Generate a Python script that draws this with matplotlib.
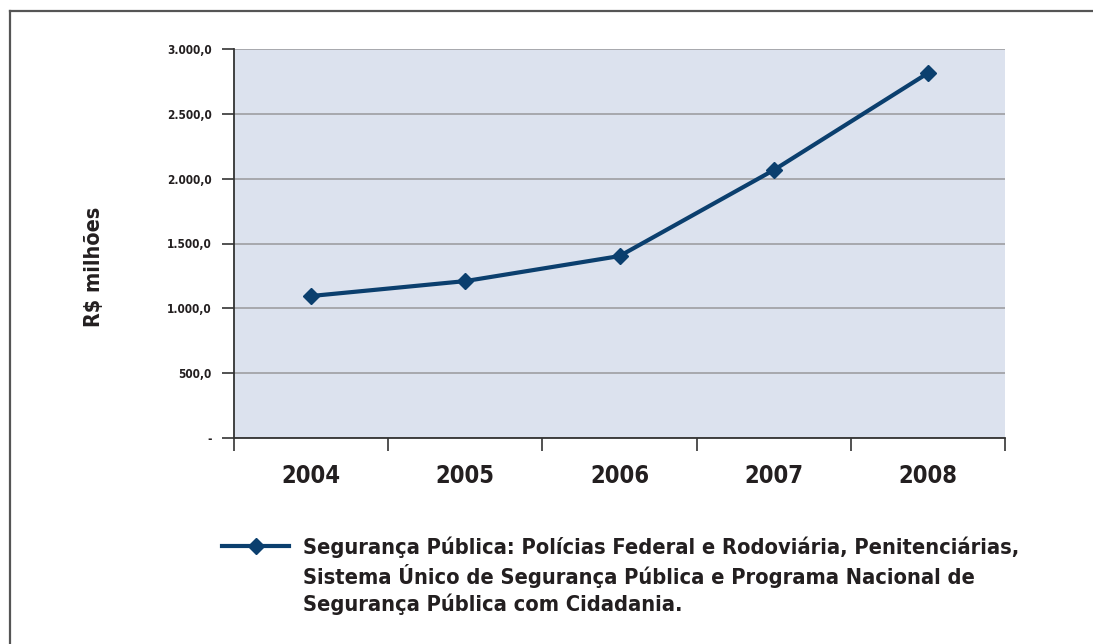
import numpy as np
import matplotlib.pyplot as plt
from matplotlib.lines import Line2D

# Data (R$ milhões)
years = ['2004', '2005', '2006', '2007', '2008']
values = [1095.0, 1210.0, 1403.0, 2066.0, 2814.0]
y_ticks = [0, 500, 1000, 1500, 2000, 2500, 3000]
y_labels = ['-', '500,0', '1.000,0', '1.500,0', '2.000,0', '2.500,0', '3.000,0']
legend_text = ('Segurança Pública: Polícias Federal e Rodoviária, Penitenciárias,\n'
               'Sistema Único de Segurança Pública e Programa Nacional de\n'
               'Segurança Pública com Cidadania.')

plt.rcParams['font.family'] = ['DejaVu Sans']
plt.rcParams['font.weight'] = 'bold'
plt.rcParams['font.stretch'] = 'condensed'

line_color = '#0b3f6e'
text_color = '#231f20'

fig = plt.figure(figsize=(10.93, 6.44), dpi=100)
ax = fig.add_axes([234 / 1093, 1 - 438 / 644, 771 / 1093, 389 / 644])
ax.set_facecolor('#dce2ee')

x = np.arange(len(years))
ax.plot(x, values, color=line_color, linewidth=3, marker='D', markersize=8,
        zorder=3, clip_on=False)

ax.set_xlim(-0.5, len(years) - 0.5)
ax.set_ylim(0, 3000)

# Category boundaries as ticks, labels in the middle
ax.set_xticks(np.arange(-0.5, len(years)), minor=False)
ax.set_xticklabels([])
ax.set_xticks(x, minor=True)
ax.set_xticklabels(years, minor=True, fontsize=17, color=text_color, fontweight='bold')
ax.tick_params(axis='x', which='major', length=9, width=1.2, color='#333333', direction='out')
ax.tick_params(axis='x', which='minor', length=0, pad=19)

ax.set_yticks(y_ticks)
ax.set_yticklabels(y_labels, fontsize=8.5, color=text_color, fontweight='bold')
ax.tick_params(axis='y', length=9, width=1.2, color='#333333', pad=7)

ax.grid(axis='y', color='#a3a3a8', linewidth=1.3)
ax.set_axisbelow(True)
for s in ['top', 'right']:
    ax.spines[s].set_visible(False)
ax.spines['left'].set_linewidth(1.3)
ax.spines['left'].set_color('#333333')
ax.spines['bottom'].set_linewidth(1.3)
ax.spines['bottom'].set_color('#333333')

fig.text(94 / 1093, 1 - 267 / 644, 'R$ milhões', rotation=90, fontsize=15.5,
         color=text_color, fontweight='bold', ha='center', va='center')

# Legend drawn by hand
fig.add_artist(Line2D([222 / 1093, 289 / 1093], [1 - 546 / 644, 1 - 546 / 644],
                      color=line_color, linewidth=3))
fig.add_artist(Line2D([256 / 1093], [1 - 546 / 644], color=line_color,
                      marker='D', markersize=8, linewidth=0))
fig.text(303 / 1093, 1 - 536 / 644, legend_text, fontsize=15.7, color=text_color,
         fontweight='bold', ha='left', va='top', linespacing=1.33)

# Outer frame (top and left edges)
fig.add_artist(Line2D([9.5 / 1093, 1.0], [1 - 10.5 / 644, 1 - 10.5 / 644],
                      color='#555555', linewidth=1.6))
fig.add_artist(Line2D([9.5 / 1093, 9.5 / 1093], [0, 1 - 10.5 / 644],
                      color='#555555', linewidth=1.6))

fig.savefig('out.png', dpi=100)
